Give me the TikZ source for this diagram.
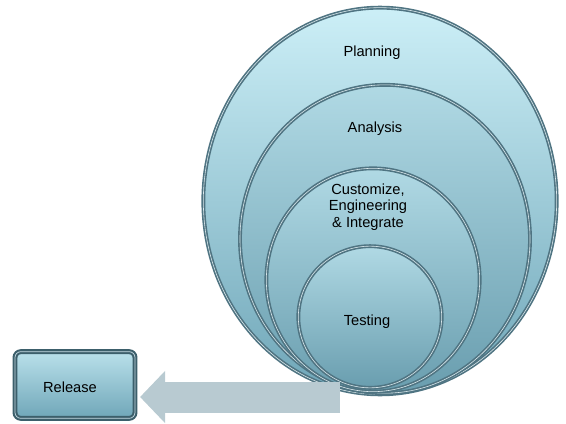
\documentclass[tikz,border=0pt]{standalone}
\usepackage{fontspec}
\setmainfont{Liberation Sans}
\usepackage{tikz}
\usetikzlibrary{shapes.geometric,arrows.meta}

\definecolor{phasetop}{HTML}{CCEFF7}
\definecolor{phasebot}{HTML}{6FA6B8}
\definecolor{phaseedge}{HTML}{4F7482}
\definecolor{flowgray}{HTML}{B8CAD1}
\definecolor{boxedge}{HTML}{3C5F6B}

\tikzset{
  phase/.style={ellipse, inner sep=0pt, draw=phaseedge, line width=1.4pt,
    double=white!75!phasebot, double distance=0.5pt,
    top color=phasetop, bottom color=phasebot},
  inphase/.style={phase, top color=phasetop!70!phasebot, bottom color=phasebot!95!black},
  lbl/.style={font=\fontsize{12.5}{14}\selectfont, align=center, inner sep=0pt},
  stepbox/.style={rectangle, rounded corners=5pt, draw=boxedge, line width=1.8pt,
    double=white!60!phasebot, double distance=0.6pt,
    top color=phasetop!80!phasebot, bottom color=phasebot,
    minimum width=3.6cm, minimum height=2cm}
}

\begin{document}
\begin{tikzpicture}[x=0.03cm, y=-0.03cm]
        \useasboundingbox (0, 0) rectangle (566, 423);

        \node[phase, minimum width=10.6cm, minimum height=11.6cm] (plan) at (380, 201) {};
        \node[inphase, minimum width=8.7cm, minimum height=9.25cm] (anal) at (385, 239) {};
        \node[inphase, minimum width=6.4cm, minimum height=6.7cm] (cust) at (373, 280) {};
        \node[inphase, minimum width=4.3cm, minimum height=4.25cm] (test) at (370, 317) {};

        \node[lbl] (plantxt) at (372, 53) {Planning};
        \node[lbl] (analtxt) at (375, 129) {Analysis};
        \node[lbl] (custtxt) at (368, 207) {Customize,\\Engineering\\\& Integrate};
        \node[lbl] (testtxt) at (367, 322) {Testing};

        \node[stepbox] (release) at (75, 385) {};
        \node[lbl] (reltxt) at (70, 387) {Release};

        \coordinate (tail) at (340, 397);
        \draw[flowgray, line width=0.93cm, -{Triangle[length=0.75cm, width=1.52cm]}, shorten >=0.12cm]
            (tail) -- (tail -| release.east);
    \end{tikzpicture}
\end{document}
